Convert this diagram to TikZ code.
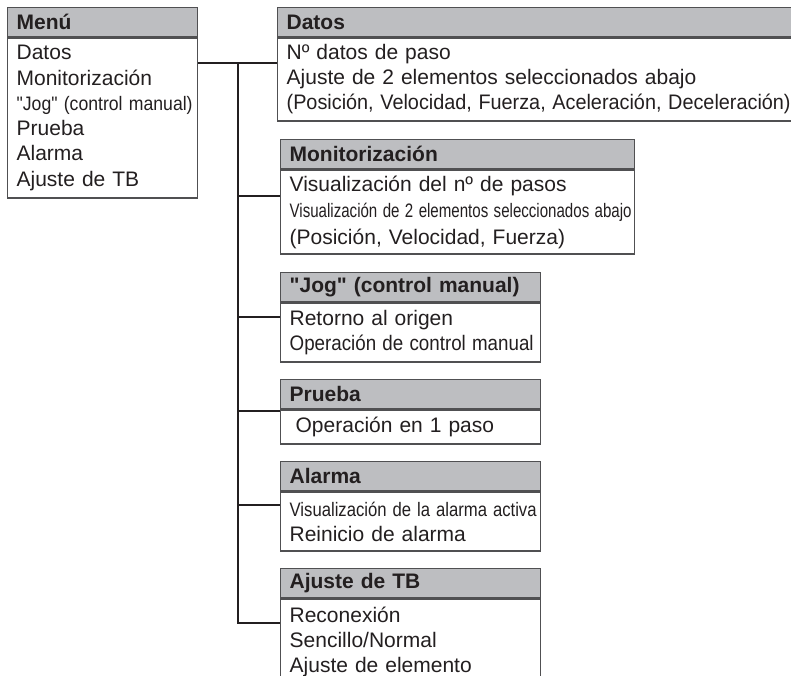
\documentclass[tikz,border=0pt]{standalone}
\usepackage{fontspec}
\setmainfont{Liberation Sans}[Ligatures=TeXOff]
\usepackage{graphicx}
\usetikzlibrary{positioning}
\definecolor{hdrgray}{HTML}{BDBEC1}
\definecolor{rulegray}{HTML}{505052}
\definecolor{inkblack}{HTML}{231F20}
\newcommand{\fitline}[2]{\resizebox{#1}{\height}{#2}}
\newcommand{\narrowline}[2]{\resizebox{#1}{\height}{\fontsize{19.5}{25}\selectfont #2}}

\begin{document}
\begin{tikzpicture}[x=1pt,y=-1pt,
  hdr/.style={draw=rulegray,line width=1.3pt,fill=hdrgray,anchor=north west,inner xsep=9pt,inner ysep=0pt,
    minimum height=29pt,text width=#1,align=left,font=\fontsize{21}{25}\selectfont\bfseries,text=inkblack},
  body/.style={draw=rulegray,line width=1.3pt,fill=white,anchor=north west,inner xsep=9pt,inner ysep=0pt,
    text width=#1,align=left,font=\fontsize{21}{25}\selectfont,text=inkblack},
  link/.style={draw=inkblack,line width=1.1pt}]
\clip (0,0) rectangle (791,675);
% menu
\node[hdr=172pt] (menu-h) at (7,7) {Menú};
\node[body=172pt,minimum height=160pt,font=\fontsize{21}{25.3}\selectfont] (menu-b) at (menu-h.south west)
  {Datos\\Monitorización\\\narrowline{176pt}{"Jog" (control manual)}\\Prueba\\Alarma\\Ajuste de TB};
% sub-menus
\node[hdr=560pt] (datos-h) at (277,7) {Datos};
\node[body=560pt,minimum height=83pt] (datos-b) at (datos-h.south west)
  {Nº datos de paso\\Ajuste de 2 elementos seleccionados abajo\\\fitline{504pt}{(Posición, Velocidad, Fuerza, Aceleración, Deceleración)}};
\node[hdr=336pt] (mon-h) at (280,139) {Monitorización};
\node[body=336pt,minimum height=84pt,font=\fontsize{21}{26.5}\selectfont] (mon-b) at (mon-h.south west)
  {Visualización del nº de pasos\\\narrowline{342pt}{Visualización de 2 elementos seleccionados abajo}\\(Posición, Velocidad, Fuerza)};
\node[hdr=242pt] (jog-h) at (280,272) {"Jog" (control manual)};
\node[body=242pt,minimum height=59pt] (jog-b) at (jog-h.south west)
  {Retorno al origen\\\fitline{244pt}{Operación de control manual}};
\node[hdr=242pt] (pru-h) at (280,379) {Prueba};
\node[body=242pt,minimum height=34pt] (pru-b) at (pru-h.south west)
  {\hspace{6pt}Operación en 1 paso};
\node[hdr=242pt] (ala-h) at (280,461) {Alarma};
\node[body=242pt,minimum height=59pt] (ala-b) at (ala-h.south west)
  {\narrowline{247pt}{Visualización de la alarma activa}\\Reinicio de alarma};
\node[hdr=242pt] (aju-h) at (280,568) {Ajuste de TB};
\node[body=242pt,minimum height=86pt] (aju-b) at (aju-h.south west)
  {Reconexión\\Sencillo/Normal\\Ajuste de elemento};
% connectors
\coordinate (trunk-top) at (238,63);
\coordinate (trunk-bot) at (238,623);
\draw[link] (menu-b.east |- trunk-top) -- (datos-b.west |- trunk-top);
\draw[link] (trunk-top) -- (trunk-bot) -- (aju-b.west |- trunk-bot);
\foreach \n/\y in {mon/196,jog/317,pru/411,ala/505}{
  \coordinate (\n-tap) at (238,\y);
  \draw[link] (\n-tap) -- (\n-b.west |- \n-tap);}
\end{tikzpicture}
\end{document}
